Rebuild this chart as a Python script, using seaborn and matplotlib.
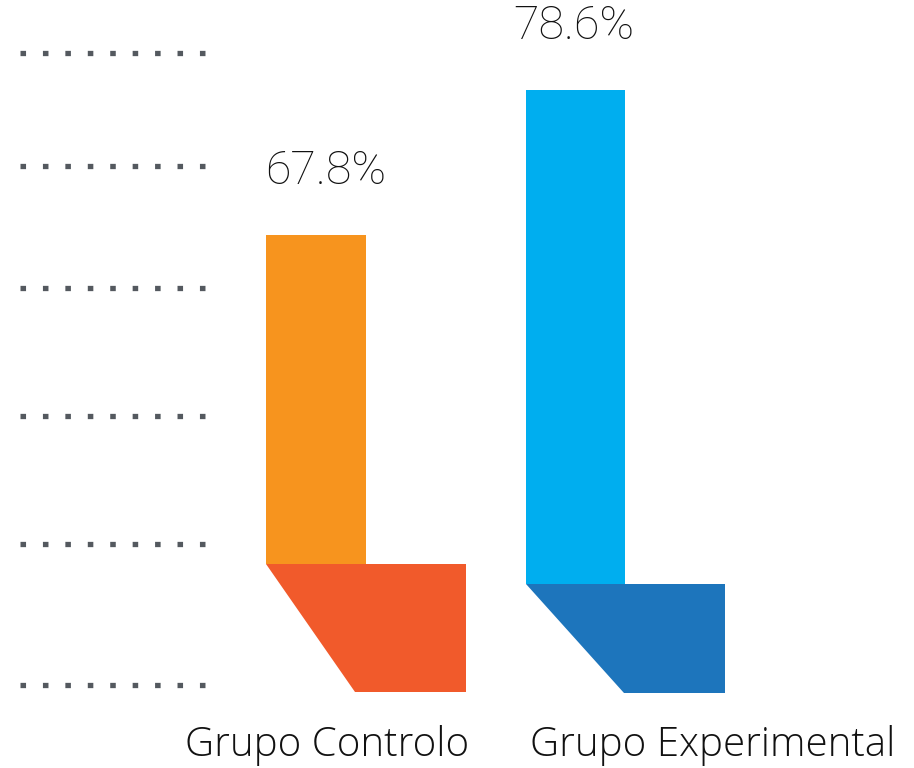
import matplotlib
matplotlib.use("Agg")
import matplotlib.pyplot as plt
from matplotlib.patches import Polygon
import seaborn as sns

# Data
categories = ["Grupo Controlo", "Grupo Experimental"]
values = [67.8, 78.6]
value_labels = ["67.8%", "78.6%"]

# Colours: upright bar and its foot
bar_colors = ["#F7941E", "#00AEEF"]
foot_colors = ["#F15A2B", "#1D75BC"]

# Shape of the "L" marks (value-axis units / category-axis units)
bar_width = 0.385
bar_bases = [43.33, 41.84]        # where the upright part meets the foot
foot_bottoms = [33.74, 33.67]
foot_length = [0.771, 0.767]      # foot top edge, from the bar's left side
foot_slant = [0.343, 0.381]       # inset of the foot's lower-left corner
grid_levels = [81.33, 72.94, 63.83, 54.32, 44.78, 34.28]

sns.set_theme(style="white")
plt.rcParams["font.family"] = ["Liberation Sans", "DejaVu Sans"]

fig = plt.figure(figsize=(9.14, 7.68), dpi=100)
ax = fig.add_axes([0, 0, 1, 1])

heights = [v - b for v, b in zip(values, bar_bases)]
sns.barplot(x=categories, y=heights, bottom=bar_bases, width=bar_width,
            color=bar_colors[0], linewidth=0, saturation=1, ax=ax, zorder=2)
for patch, c in zip(ax.patches, bar_colors):
    patch.set_facecolor(c)
    patch.set_edgecolor("none")

# Feet of the L shapes
for i in range(len(categories)):
    left = i - bar_width / 2
    pts = [(left, bar_bases[i]),
           (left + foot_length[i], bar_bases[i]),
           (left + foot_length[i], foot_bottoms[i]),
           (left + foot_slant[i], foot_bottoms[i])]
    ax.add_patch(Polygon(pts, closed=True, facecolor=foot_colors[i],
                         edgecolor="none", zorder=3))

# Value labels above the bars
label_dx = [0.036, -0.006]
for i, (v, t) in enumerate(zip(values, value_labels)):
    ax.text(i + label_dx[i], v + 3.8, t, ha="center", va="baseline",
            fontsize=33.5, color="#111111",
            family=["Roboto", "Liberation Sans"], fontweight="light")

# Dotted guide lines at the left
lw = 3.8
ax.hlines(grid_levels, -1.1407, -0.4239, colors="#54595F", linewidth=lw,
          linestyles=[(0, (1.05, 3.2))], zorder=1)
for coll in ax.collections:
    coll.set_capstyle("butt")

ax.set_xlim(-1.2177, 2.3044)
ax.set_ylim(28.10, 85.30)
ax.axis("off")

# Category names under the bars
cat_x = [327 / 914, 712.5 / 914]
for x, name in zip(cat_x, categories):
    fig.text(x, 1 - 756 / 768, name, ha="center", va="baseline",
             fontsize=29, color="#111111",
             family=["Open Sans", "Liberation Sans"], fontweight="light")

fig.savefig("out.png", dpi=100)
